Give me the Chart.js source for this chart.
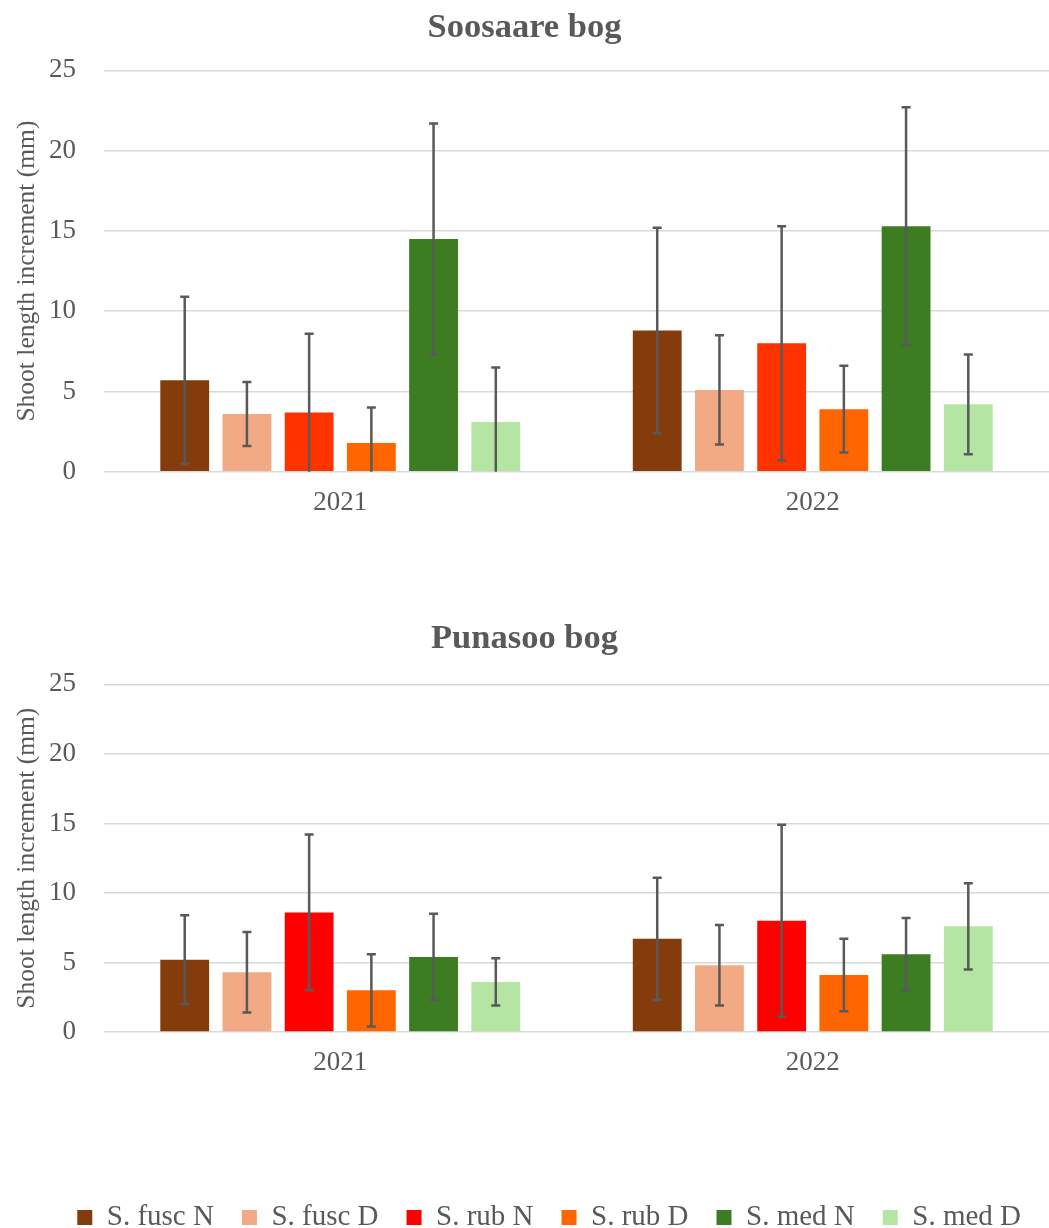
<!DOCTYPE html>
<html>
<head>
<meta charset="utf-8">
<script src="https://cdn.jsdelivr.net/npm/chart.js@4"></script>
<style>
  html, body { margin: 0; padding: 0; background: #fff; overflow: hidden; }
  #top { position: absolute; left: 0; top: 0; width: 1049px; height: 516px; }
  #bottom { position: absolute; left: 0; top: 600px; width: 1049px; height: 628px; }
</style>
</head>
<body>
<div id="top"><canvas id="soosaare"></canvas></div>
<div id="bottom"><canvas id="punasoo"></canvas></div>
<script>
var years = ['2021', '2022'];
var seriesNames = ['S. fusc N', 'S. fusc D', 'S. rub N', 'S. rub D', 'S. med N', 'S. med D'];
var yTicks = [0, 5, 10, 15, 20, 25];

// one row per series: [2021, 2022]
var soosaareMean = [[5.7, 8.8], [3.6, 5.1], [3.7, 8.0], [1.8, 3.9], [14.5, 15.3], [3.1, 4.2]];
var soosaareErr  = [[5.2, 6.4], [2.0, 3.4], [4.9, 7.3], [2.2, 2.7], [7.2, 7.4], [3.4, 3.1]];
var punasooMean  = [[5.2, 6.7], [4.3, 4.8], [8.6, 8.0], [3.0, 4.1], [5.4, 5.6], [3.6, 7.6]];
var punasooErr   = [[3.2, 4.4], [2.9, 2.9], [5.6, 6.9], [2.6, 2.6], [3.1, 2.6], [1.7, 3.1]];

var soosaareColors = ['#843c0c', '#f1aa84', '#ff3300', '#ff6600', '#3c7d22', '#b4e5a2'];
var punasooColors  = ['#843c0c', '#f1aa84', '#ff0000', '#ff6600', '#3c7d22', '#b4e5a2'];

var grey = '#595959';
Chart.defaults.font.family = "'Liberation Serif', 'Times New Roman', serif";
Chart.defaults.color = grey;

// whiskers drawn through the y scale, clipped at the axis minimum
var errorBars = {
  id: 'errorBars',
  afterDatasetsDraw: function(chart) {
    var ctx = chart.ctx, y = chart.scales.y;
    ctx.save();
    ctx.strokeStyle = grey;
    ctx.lineWidth = 2.5;
    chart.data.datasets.forEach(function(ds, i) {
      chart.getDatasetMeta(i).data.forEach(function(bar, j) {
        var low = ds.data[j] - ds.err[j];
        var hi = y.getPixelForValue(ds.data[j] + ds.err[j]);
        var lo = y.getPixelForValue(Math.max(y.min, low));
        ctx.beginPath();
        ctx.moveTo(bar.x, hi); ctx.lineTo(bar.x, lo);
        ctx.moveTo(bar.x - 4.5, hi); ctx.lineTo(bar.x + 4.5, hi);
        if (low > y.min) { ctx.moveTo(bar.x - 4.5, lo); ctx.lineTo(bar.x + 4.5, lo); }
        ctx.stroke();
      });
    });
    ctx.restore();
  }
};

function makeChart(id, title, means, errs, colors, titlePad, showLegend, xHeight) {
  return new Chart(document.getElementById(id), {
    type: 'bar',
    data: {
      labels: years,
      datasets: seriesNames.map(function(name, i) {
        return {
          label: name,
          data: means[i],
          err: errs[i],
          backgroundColor: colors[i],
          categoryPercentage: 0.79,
          barPercentage: 0.785
        };
      })
    },
    plugins: [errorBars],
    options: {
      responsive: true,
      maintainAspectRatio: false,
      animation: false,
      layout: { padding: 0 },
      plugins: {
        title: {
          display: true,
          text: title,
          color: grey,
          font: { size: 34.5, weight: 'bold' },
          padding: titlePad
        },
        legend: {
          display: showLegend,
          position: 'bottom',
          align: 'end',
          maxHeight: 53,
          labels: { boxWidth: 15, boxHeight: 15, padding: 28, color: grey, font: { size: 29 } }
        },
        tooltip: { enabled: false }
      },
      scales: {
        x: {
          grid: { display: false, drawTicks: false },
          border: { display: false },
          ticks: { color: grey, font: { size: 27 }, padding: 15 },
          afterFit: function(s) { s.height = xHeight; }
        },
        y: {
          min: 0,
          max: 25,
          afterBuildTicks: function(s) { s.ticks = yTicks.map(function(v) { return { value: v }; }); },
          ticks: { color: grey, font: { size: 27 }, padding: 28 },
          grid: { color: '#d9d9d9', lineWidth: 1.5, drawTicks: false },
          border: { display: false },
          title: {
            display: true,
            text: 'Shoot length increment (mm)',
            color: grey,
            font: { size: 25.5 },
            padding: { top: 12, bottom: 7 }
          },
          afterFit: function(s) { s.width = 104; }
        }
      }
    }
  });
}

makeChart('soosaare', 'Soosaare bog', soosaareMean, soosaareErr, soosaareColors,
  { top: 7, bottom: 22 }, false, 44);
makeChart('punasoo', 'Punasoo bog', punasooMean, punasooErr, punasooColors,
  { top: 18, bottom: 25 }, true, 143);
</script>
</body>
</html>
